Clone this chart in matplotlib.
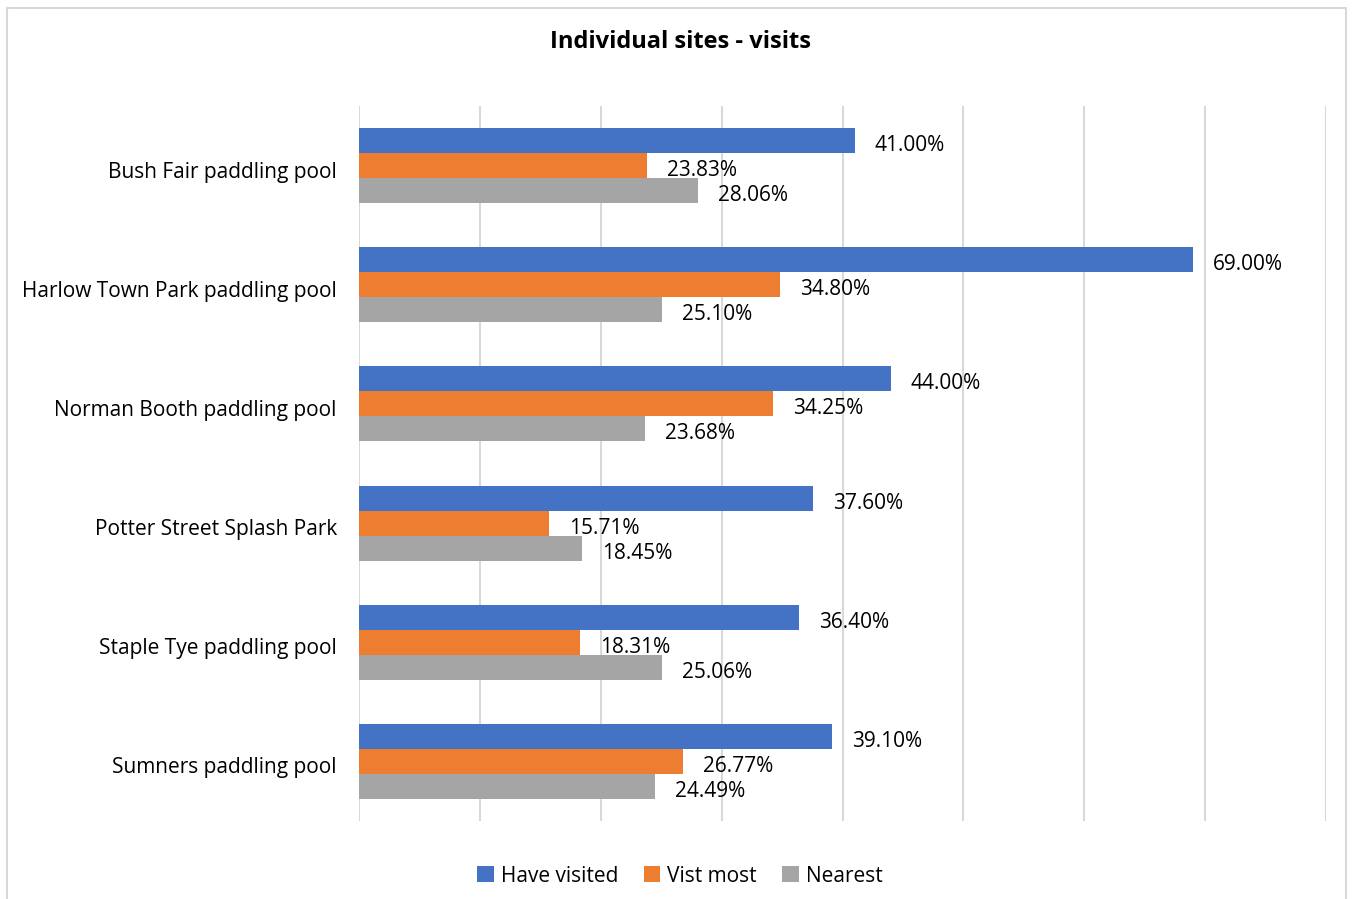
import matplotlib.pyplot as plt
import matplotlib.transforms as mtrans
import numpy as np
from matplotlib.patches import Rectangle

sites = ["Bush Fair paddling pool", "Harlow Town Park paddling pool",
         "Norman Booth paddling pool", "Potter Street Splash Park",
         "Staple Tye paddling pool", "Sumners paddling pool"]
have_visited = [41.00, 69.00, 44.00, 37.60, 36.40, 39.10]
visit_most = [23.83, 34.80, 34.25, 15.71, 18.31, 26.77]
nearest = [28.06, 25.10, 23.68, 18.45, 25.06, 24.49]

series = [("Have visited", have_visited, "#4472C4"),
          ("Vist most", visit_most, "#ED7D31"),
          ("Nearest", nearest, "#A5A5A5")]

plt.rcParams['font.family'] = ['Open Sans', 'DejaVu Sans']
fs = 15

fig = plt.figure(figsize=(13.54, 8.99), dpi=100)
ax = fig.add_axes([359/1354, 1 - 821/899, (1326-359)/1354, (821-106)/899])

# light border around the chart area
fig.patches.append(Rectangle((7/1354, -0.05), (1346-7)/1354, 1.05 - 8/899,
                             transform=fig.transFigure, fill=False,
                             edgecolor="#D9D9D9", linewidth=1.5))

y = np.arange(len(sites))
h = 0.21
for i, (name, vals, col) in enumerate(series):
    pos = y + (i - 1) * h
    ax.barh(pos, vals, height=h, color=col, label=name, zorder=2)
    for p, v in zip(pos, vals):
        ax.annotate("{0:.2f}%".format(v), (v, p), xytext=(20, -5),
                    textcoords="offset pixels",
                    va="center", ha="left", fontsize=fs, color="#000000")

ax.set_xlim(0, 80)
ax.set_ylim(len(sites) - 0.5, -0.5)
ax.set_xticks(np.arange(0, 81, 10))
ax.set_xticklabels([])
ax.tick_params(axis="x", length=0)
ax.tick_params(axis="y", length=0, pad=16, labelsize=fs)
ax.set_yticks(y)
ax.set_yticklabels(sites)
shift = mtrans.ScaledTranslation(0, -4/100, fig.dpi_scale_trans)
for lbl in ax.get_yticklabels():
    lbl.set_transform(lbl.get_transform() + shift)
ax.grid(axis="x", color="#D9D9D9", linewidth=1.5, zorder=0)
for s in ax.spines.values():
    s.set_visible(False)

fig.text(680/1354, 1 - 42/899, "Individual sites - visits", ha="center",
         va="center", fontsize=17, fontweight="bold")

fig.legend(loc="center", bbox_to_anchor=(680/1354, 1 - 876/899), ncol=3,
           frameon=False, fontsize=fs, handlelength=0.8, handleheight=0.8,
           handletextpad=0.35, columnspacing=1.2)

fig.savefig("out.png", dpi=100)
